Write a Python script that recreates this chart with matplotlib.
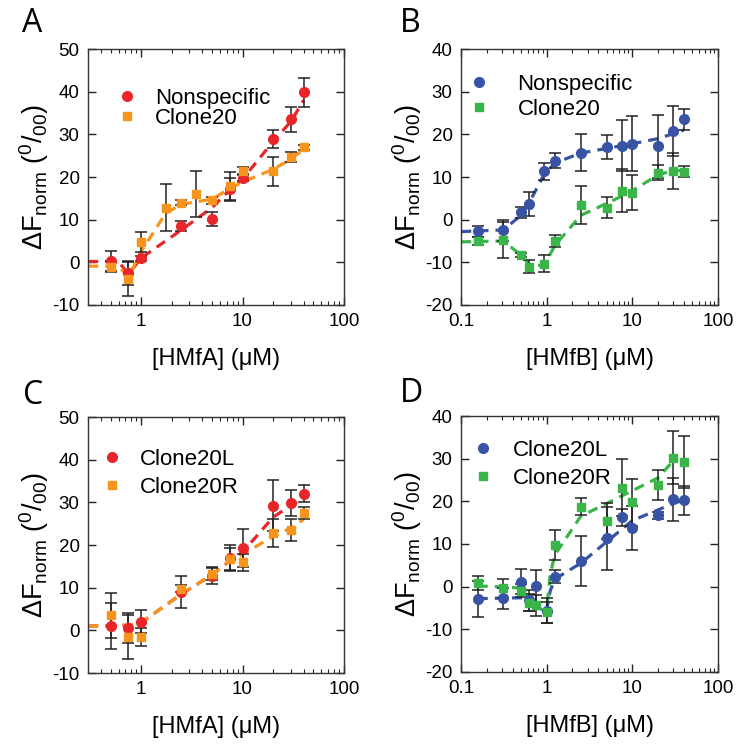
import matplotlib
matplotlib.use("Agg")
import matplotlib.pyplot as plt
import numpy as np

plt.rcParams['font.family'] = ['Liberation Sans', 'DejaVu Sans']
plt.rcParams['mathtext.fontset'] = 'custom'
plt.rcParams['mathtext.rm'] = 'Liberation Sans'
plt.rcParams['mathtext.it'] = 'Liberation Sans:italic'
plt.rcParams['mathtext.bf'] = 'Liberation Sans:bold'

RED = '#e8262a'
ORANGE = '#f7941d'
BLUE = '#3953a4'
GREEN = '#3ab54a'

# ---------------- Panel A ----------------
a_x = [0.5, 0.75, 1.0, 2.5, 5, 7.5, 10, 20, 30, 40]
a_ns_y = [0.3, -2.6, 0.9, 8.5, 10.1, 17.2, 19.8, 28.9, 33.5, 39.9]
a_ns_e = [2.4, 2.8, 0.5, 1.2, 1.6, 2.6, 0.7, 2.2, 3.0, 3.4]
a_c_x = [0.5, 0.75, 1.0, 1.75, 2.5, 3.5, 5, 7.5, 10, 20, 30, 40]
a_c_y = [-1.0, -3.9, 4.8, 12.8, 14.0, 16.0, 14.5, 17.8, 21.5, 21.3, 24.7, 27.0]
a_c_e = [1.3, 4.0, 2.4, 5.5, 0.5, 5.4, 0.8, 3.4, 0.8, 3.5, 1.2, 0.6]
a_ns_fx = [0.3, 0.6, 0.75, 1.0, 2.5, 5, 7.5, 10, 20, 30, 40]
a_ns_fy = [0.2, 0.2, -2.8, 1.0, 7.6, 12.8, 17.0, 19.5, 28.3, 33.0, 38.0]
a_c_fx = [0.3, 0.6, 0.75, 1.0, 1.75, 2.5, 3.5, 5, 7.5, 10, 20, 30, 40]
a_c_fy = [-0.9, -0.9, -3.5, 2.5, 11.5, 13.6, 14.2, 14.8, 17.3, 18.8, 21.8, 24.2, 26.5]

# ---------------- Panel B ----------------
b_x = [0.156, 0.3125, 0.5, 0.625, 0.93, 1.25, 2.5, 5, 7.5, 10, 20, 30, 40]
b_ns_y = [-2.7, -2.5, 1.7, 3.6, 11.3, 13.8, 15.7, 17.1, 17.3, 17.8, 17.2, 20.8, 23.5]
b_ns_e = [1.3, 2.5, 1.2, 2.8, 2.0, 1.8, 4.3, 2.8, 6.0, 6.5, 7.4, 5.8, 2.5]
b_c_y = [-5.0, -4.8, -8.2, -11.0, -10.3, -5.0, 3.5, 2.8, 6.8, 6.3, 11.0, 11.5, 11.2]
b_c_e = [1.0, 4.3, 0.5, 1.5, 2.0, 1.5, 4.5, 2.4, 5.0, 4.1, 1.8, 4.2, 1.3]
b_ns_fx = [0.1, 0.3125, 0.5, 0.625, 0.93, 1.25, 2.5, 5, 10, 20, 40]
b_ns_fy = [-2.8, -2.4, 1.0, 4.0, 10.5, 13.3, 15.6, 16.7, 17.8, 19.0, 21.0]
b_c_fx = [0.1, 0.3125, 0.5, 0.625, 0.93, 1.25, 2.5, 5, 7.5, 10, 20, 30, 40]
b_c_fy = [-5.2, -5.0, -8.3, -10.5, -10.8, -6.0, 1.0, 3.8, 5.5, 6.8, 10.5, 11.5, 11.5]

# ---------------- Panel C ----------------
c_x = [0.5, 0.75, 1.0, 2.5, 5, 7.5, 10, 20, 30, 40]
c_l_y = [1.0, 0.5, 2.0, 9.0, 12.8, 17.0, 19.3, 29.2, 29.8, 32.0]
c_l_e = [5.3, 3.5, 2.7, 3.8, 2.0, 3.0, 4.5, 6.0, 3.0, 2.0]
c_r_y = [3.5, -1.5, -1.5, 9.8, 13.2, 16.7, 16.0, 22.8, 23.5, 27.5]
c_r_e = [5.2, 5.2, 2.1, 0.8, 1.5, 2.5, 2.0, 3.2, 2.5, 1.5]
c_l_fx = [0.3, 0.75, 1.0, 2.5, 5, 7.5, 10, 20, 30, 40]
c_l_fy = [1.0, 1.2, 1.8, 8.5, 13.0, 16.3, 18.3, 26.5, 29.3, 31.0]
c_r_fx = [0.3, 0.75, 1.0, 2.5, 5, 7.5, 10, 20, 30, 40]
c_r_fy = [1.0, 1.2, 1.8, 8.5, 13.0, 16.3, 17.8, 22.0, 24.0, 26.0]

# ---------------- Panel D ----------------
d_x = [0.156, 0.3125, 0.5, 0.625, 0.75, 1.0, 1.25, 2.5, 5, 7.5, 10, 20, 30, 40]
d_l_y = [-2.8, -2.7, 1.2, -3.2, 0.1, -5.6, 2.3, 6.0, 11.3, 16.3, 13.8, 16.7, 20.5, 20.2]
d_l_e = [4.2, 2.5, 3.0, 2.5, 3.8, 3.0, 1.5, 5.8, 7.4, 2.0, 5.2, 0.8, 5.0, 3.5]
d_r_y = [0.8, -0.4, -0.9, -3.8, -4.4, -6.0, 9.7, 18.7, 15.4, 23.2, 19.8, 23.8, 30.2, 29.3]
d_r_e = [1.6, 2.2, 1.5, 2.0, 2.4, 2.5, 3.5, 2.0, 4.3, 6.7, 5.5, 3.5, 6.2, 6.1]
d_l_fx = [0.156, 0.5, 0.625, 0.75, 1.0, 1.1, 1.25, 2.5, 5, 10, 20, 30, 40]
d_l_fy = [-2.8, -2.6, -3.5, -4.5, -5.3, -1.0, 1.8, 5.5, 10.5, 15.5, 18.0, 19.5, 20.3]
d_r_fx = [0.156, 0.5, 0.625, 0.75, 0.9, 1.0, 1.1, 1.25, 2.5, 5, 10, 20, 30]
d_r_fy = [0.2, -0.3, -3.0, -4.5, -5.5, -5.5, 3.0, 7.5, 16.5, 19.5, 22.5, 25.5, 29.5]

W, H = 737, 746
fig = plt.figure(figsize=(W / 100, H / 100), dpi=100)


def mkax(l, r, t, b):
    return fig.add_axes([l / W, 1 - b / H, (r - l) / W, (b - t) / H])


axA = mkax(88, 344, 49, 305)
axB = mkax(461, 718, 49, 305)
axC = mkax(88, 344, 417, 673)
axD = mkax(461, 718, 416, 672)

YLAB = r'$\Delta$F$_{\rm norm}$ ($^{\rm 0}$/$_{\rm 00}$)'
TICKFS = 13.5


def series(ax, x, y, e, fx, fy, color, marker, label, ms):
    ax.plot(fx, fy, '--', color=color, lw=2.3, dashes=(3.2, 2.2), zorder=2)
    ax.errorbar(x, y, yerr=e, fmt='none', ecolor='#222222', elinewidth=1.1,
                capsize=4, capthick=1.1, zorder=3)
    ax.plot(x, y, linestyle='none', marker=marker, color=color, ms=ms,
            mec=color, zorder=4, label=label)


def style(ax, xlim, ylim, yticks, xlabel, letter, lx, ly, legpos, lspace, tpad):
    ax.set_xscale('log')
    ax.set_xlim(*xlim)
    ax.set_ylim(*ylim)
    ax.set_yticks(yticks)
    ax.set_yticklabels([str(v) for v in yticks])
    if xlim[0] < 0.2:
        ax.set_xticks([0.1, 1, 10, 100])
        ax.set_xticklabels(['0.1', '1', '10', '100'])
    else:
        ax.set_xticks([1, 10, 100])
        ax.set_xticklabels(['1', '10', '100'])
    ax.tick_params(which='both', direction='in', top=True, right=True,
                   labelsize=TICKFS, colors='#222222', labelcolor='black')
    ax.tick_params(which='major', length=6, width=1, pad=6)
    ax.tick_params(which='minor', length=3, width=0.8)
    ax.tick_params(axis='y', which='minor', left=False, right=False)
    for s in ax.spines.values():
        s.set_linewidth(1.0)
        s.set_color('#333333')
    ax.set_ylabel(YLAB, fontsize=19.5, labelpad=1)
    ax.set_xlabel(xlabel, fontsize=17, labelpad=13)
    fig.text(lx / W, 1 - ly / H, letter, fontsize=23, family='Open Sans',
             ha='left', va='center')
    leg = ax.legend(loc='upper left', bbox_to_anchor=legpos, frameon=False,
                    fontsize=16, handlelength=1.0, handletextpad=tpad,
                    labelspacing=lspace, borderaxespad=0, numpoints=1)
    return leg


MS_C, MS_S = 7, 6.3
series(axA, a_x, a_ns_y, a_ns_e, a_ns_fx, a_ns_fy, RED, 'o', 'Nonspecific', MS_C)
series(axA, a_c_x, a_c_y, a_c_e, a_c_fx, a_c_fy, ORANGE, 's', 'Clone20', MS_S)
style(axA, (0.3, 100), (-10, 50), [-10, 0, 10, 20, 30, 40, 50], '[HMfA] (μM)', 'A', 22, 23,
      (0.074, 0.883), -0.05, 0.77)

series(axB, b_x, b_ns_y, b_ns_e, b_ns_fx, b_ns_fy, BLUE, 'o', 'Nonspecific', MS_C)
series(axB, b_x, b_c_y, b_c_e, b_c_fx, b_c_fy, GREEN, 's', 'Clone20', MS_S)
style(axB, (0.1, 100), (-20, 40), [-20, -10, 0, 10, 20, 30, 40], '[HMfB] (μM)', 'B', 400, 23,
      (-0.008, 0.9375), 0.17, 1.23)

series(axC, c_x, c_l_y, c_l_e, c_l_fx, c_l_fy, RED, 'o', 'Clone20L', MS_C)
series(axC, c_x, c_r_y, c_r_e, c_r_fx, c_r_fy, ORANGE, 's', 'Clone20R', MS_S)
style(axC, (0.3, 100), (-10, 50), [-10, 0, 10, 20, 30, 40, 50], '[HMfA] (μM)', 'C', 23, 395,
      (0.0156, 0.910), 0.3, 0.77)

series(axD, d_x, d_l_y, d_l_e, d_l_fx, d_l_fy, BLUE, 'o', 'Clone20L', MS_C)
series(axD, d_x, d_r_y, d_r_e, d_r_fx, d_r_fy, GREEN, 's', 'Clone20R', MS_S)
style(axD, (0.1, 100), (-20, 40), [-20, -10, 0, 10, 20, 30, 40], '[HMfB] (μM)', 'D', 400, 394,
      (0.0078, 0.941), 0.3, 0.86)

fig.savefig('out.png', dpi=100)
